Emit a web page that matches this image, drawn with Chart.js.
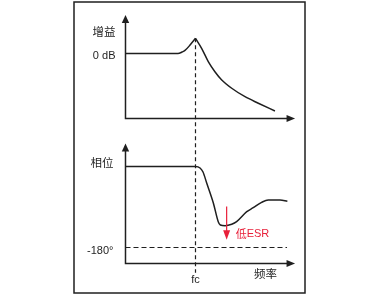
<!DOCTYPE html>
<html>
<head>
<meta charset="utf-8">
<script src="https://cdn.jsdelivr.net/npm/chart.js@4/dist/chart.umd.min.js"></script>
<style>
  html, body { margin: 0; padding: 0; background: #fff; }
  #wrap { width: 379px; height: 297px; }
</style>
</head>
<body>
<div id="wrap"><canvas id="c" width="379" height="297"></canvas></div>
<script>
// ---- data (frequency in arbitrary units, fc = 4) ----
const fc = 4;
const gainFreq = [0, 3.0, 3.23, 3.4, 3.69, 4.0, 4.35, 4.73, 5.11, 5.5, 6.07, 6.83, 7.59, 8.54];
const gainDb   = [0, 0, 0.9, 1.9, 5.2, 9.35, 3.2, -5.0, -11.2, -16.3, -21.4, -26.6, -30.6, -35.4];
const peakIndex = 5;

const phaseFreq = [0, 4.0, 4.26, 4.43, 4.64, 5.02, 5.30, 5.42, 5.69, 6.07, 6.35, 6.93, 7.30, 7.78, 8.16, 8.83, 9.25];
const phaseDeg  = [0, 0, -3.3, -12.2, -36.7, -81.1, -122.7, -130, -131.6, -128.4, -122.7, -100.4, -91.6, -79.6, -74.4, -74.4, -77.3];

const refPhase = -180;               // dashed reference level
const refPhaseEnd = 9.23;            // frequency where dashed line ends
const esrFreq = 5.78;                // red "低ESR" arrow
const esrFrom = -89, esrTo = -163;

const gainTickValues = [0];      const gainTickLabels = ['0 dB'];
const phaseTickValues = [-180];  const phaseTickLabels = ['-180°'];
const xTickValues = [fc];        const xTickLabels = ['fc'];
const gainTitle = '增益', phaseTitle = '相位', freqTitle = '频率', esrLabel = '低ESR';

// axis extents (data units)
const xAxisEnd = 9.69;
const gainAxisBase = -40, gainAxisTop = 23.7;
const phaseAxisBase = -215.6, phaseAxisTop = 51.1;

const pts = (xs, ys) => xs.map((x, i) => ({ x, y: ys[i] }));

const FONT = "'Liberation Sans', Arial, 'Noto Sans CJK SC', sans-serif";
const CJK = "'Noto Sans CJK SC', 'Liberation Sans', sans-serif";
const INK = '#1f1f1f';
const RED = '#e8203a';

function arrowHead(ctx, x, y, dir) {
  ctx.beginPath();
  if (dir === 'up') { ctx.moveTo(x, y); ctx.lineTo(x - 3.7, y + 8); ctx.lineTo(x + 3.7, y + 8); }
  else if (dir === 'right') { ctx.moveTo(x, y); ctx.lineTo(x - 8.5, y - 3.5); ctx.lineTo(x - 8.5, y + 3.5); }
  else if (dir === 'down') { ctx.moveTo(x, y); ctx.lineTo(x - 3.5, y - 9.5); ctx.lineTo(x + 3.5, y - 9.5); }
  ctx.closePath(); ctx.fill();
}

const decor = {
  id: 'decor',
  beforeDraw(chart) {
    const ctx = chart.ctx;
    ctx.save();
    ctx.strokeStyle = INK; ctx.lineWidth = 1.5;
    ctx.strokeRect(74, 2, 231, 291);
    ctx.restore();
  },
  afterDatasetsDraw(chart) {
    const ctx = chart.ctx;
    const X = chart.scales.x, G = chart.scales.yG, P = chart.scales.yP;
    const x0 = X.getPixelForValue(0), xEnd = X.getPixelForValue(xAxisEnd);
    ctx.save();
    ctx.strokeStyle = INK; ctx.fillStyle = INK; ctx.lineWidth = 1.5;
    // axes
    [[G, gainAxisBase, gainAxisTop], [P, phaseAxisBase, phaseAxisTop]].forEach(([S, b, t]) => {
      const yb = S.getPixelForValue(b), yt = S.getPixelForValue(t);
      ctx.beginPath(); ctx.moveTo(x0, yt + 6); ctx.lineTo(x0, yb); ctx.lineTo(xEnd - 6, yb); ctx.stroke();
      arrowHead(ctx, x0, yt, 'up');
      arrowHead(ctx, xEnd, yb, 'right');
    });
    // fc dashed vertical through both plots
    const xf = X.getPixelForValue(fc);
    ctx.setLineDash([4, 3]); ctx.lineWidth = 1.2;
    ctx.beginPath();
    ctx.moveTo(xf, G.getPixelForValue(gainDb[peakIndex]));
    ctx.lineTo(xf, P.getPixelForValue(-236));
    ctx.stroke();
    ctx.setLineDash([]);
    // labels
    ctx.textBaseline = 'middle';
    ctx.textAlign = 'right';
    ctx.font = '11px ' + FONT;
    gainTickValues.forEach((v, i) => ctx.fillText(gainTickLabels[i], x0 - 10, G.getPixelForValue(v) + 2.5));
    phaseTickValues.forEach((v, i) => ctx.fillText(phaseTickLabels[i], x0 - 12, P.getPixelForValue(v) + 3));
    ctx.font = '11.5px ' + CJK;
    ctx.fillText(gainTitle, x0 - 10, G.getPixelForValue(13.4));
    ctx.fillText(phaseTitle, x0 - 12, P.getPixelForValue(8.4));
    ctx.textAlign = 'center';
    ctx.font = '11px ' + FONT;
    xTickValues.forEach((v, i) => ctx.fillText(xTickLabels[i], X.getPixelForValue(v), P.getPixelForValue(phaseAxisBase) + 16));
    ctx.font = '11.5px ' + CJK;
    ctx.fillText(freqTitle, X.getPixelForValue(8.0), P.getPixelForValue(phaseAxisBase) + 10);
    // low ESR arrow
    const xe = X.getPixelForValue(esrFreq);
    ctx.strokeStyle = RED; ctx.fillStyle = RED; ctx.lineWidth = 1.2;
    ctx.beginPath(); ctx.moveTo(xe, P.getPixelForValue(esrFrom)); ctx.lineTo(xe, P.getPixelForValue(esrTo) - 8); ctx.stroke();
    arrowHead(ctx, xe, P.getPixelForValue(esrTo), 'down');
    ctx.textAlign = 'left';
    ctx.font = '11px ' + CJK;
    const ty = P.getPixelForValue(-150);
    ctx.fillText('低', xe + 9, ty);
    const w = ctx.measureText('低').width;
    ctx.font = '11px ' + FONT;
    ctx.fillText('ESR', xe + 9 + w, ty);
    ctx.restore();
  }
};

const lineStyle = { borderColor: INK, borderWidth: 1.5, pointRadius: 0, fill: false, cubicInterpolationMode: 'monotone', clip: false };

new Chart(document.getElementById('c'), {
  type: 'line',
  data: {
    datasets: [
      Object.assign({ label: 'gain-rise', yAxisID: 'yG', data: pts(gainFreq.slice(0, peakIndex + 1), gainDb.slice(0, peakIndex + 1)) }, lineStyle),
      Object.assign({ label: 'gain-fall', yAxisID: 'yG', data: pts(gainFreq.slice(peakIndex), gainDb.slice(peakIndex)) }, lineStyle),
      Object.assign({ label: 'phase', yAxisID: 'yP', data: pts(phaseFreq, phaseDeg) }, lineStyle),
      { label: 'ref', yAxisID: 'yP', data: [{ x: 0, y: refPhase }, { x: refPhaseEnd, y: refPhase }],
        borderColor: INK, borderWidth: 1.2, borderDash: [5, 3], pointRadius: 0, fill: false, tension: 0 }
    ]
  },
  options: {
    responsive: false,
    animation: false,
    events: [],
    layout: { padding: 0 },
    plugins: { legend: { display: false }, tooltip: { enabled: false }, title: { display: false } },
    scales: {
      x:  { type: 'linear', display: false, min: -7.171, max: 14.486 },
      yG: { type: 'linear', display: false, min: -149.85, max: 32.92 },
      yP: { type: 'linear', display: false, min: -290, max: 370 }
    }
  },
  plugins: [decor]
});
</script>
</body>
</html>
